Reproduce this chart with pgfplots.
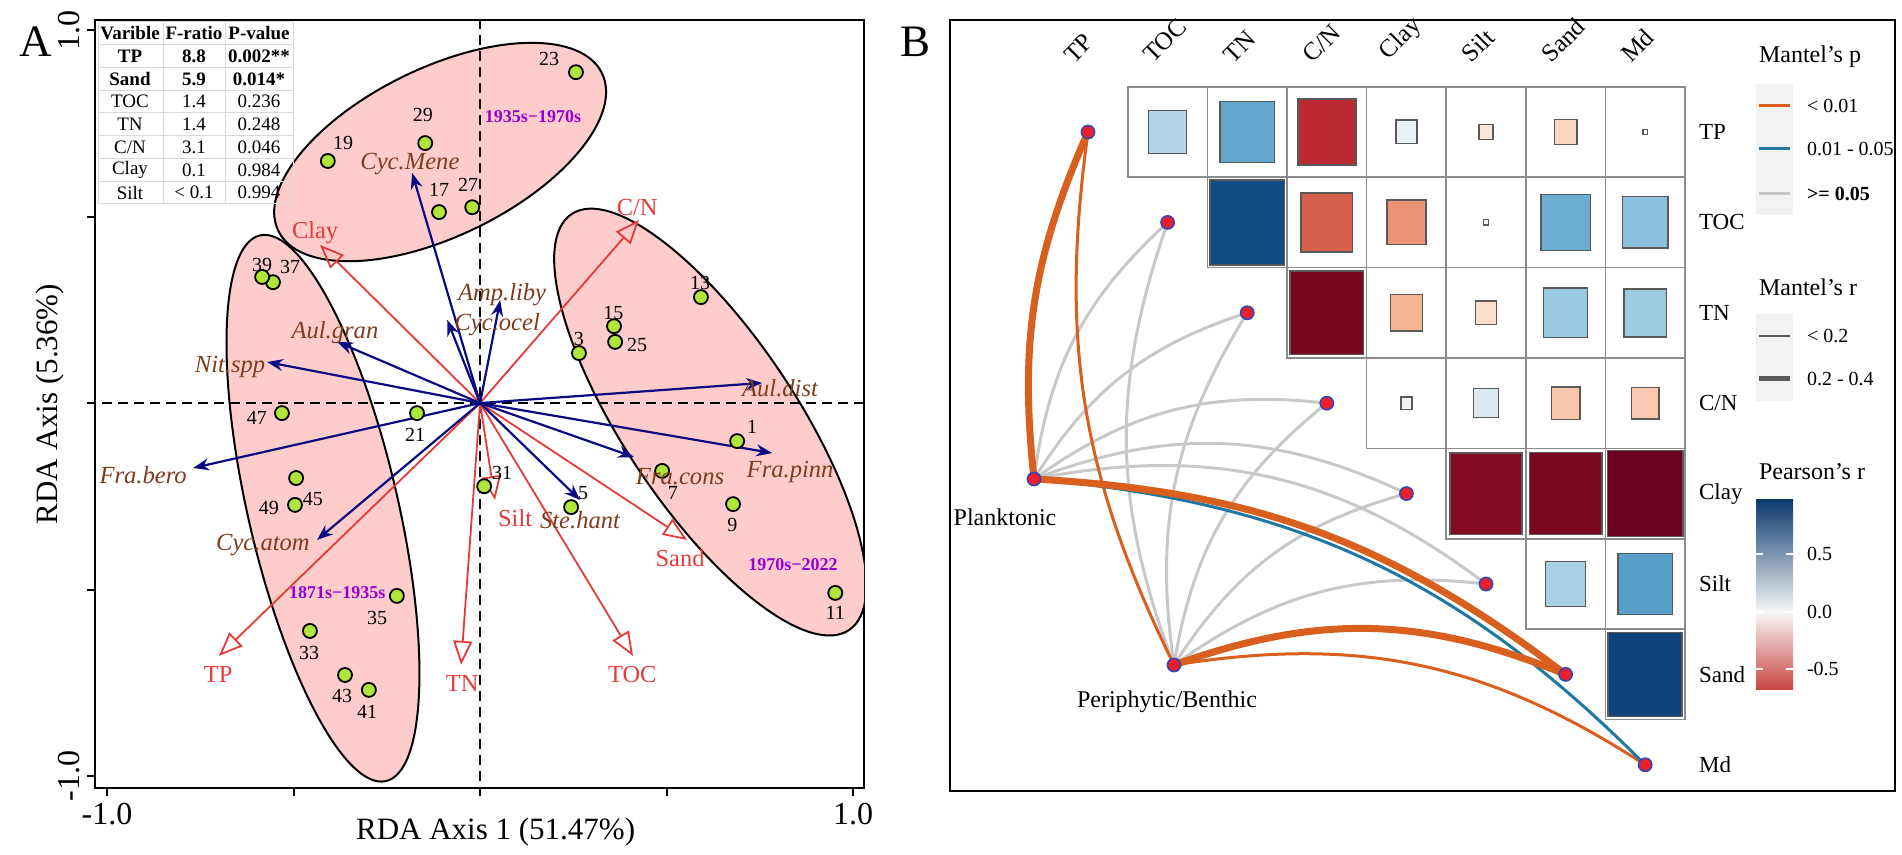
\documentclass[border=0pt]{standalone}
\usepackage{pgfplots}
\pgfplotsset{compat=1.18}
\usepackage{pgfplotstable}
\usepackage{fontspec}
\setmainfont{Liberation Serif}
\usetikzlibrary{arrows.meta}

\definecolor{ptgreen}{RGB}{176,229,58}
\definecolor{spnavy}{RGB}{10,10,130}
\definecolor{envred}{RGB}{228,58,58}
\definecolor{spbrown}{RGB}{125,60,30}
\definecolor{grpink}{RGB}{255,204,204}
\definecolor{perpurple}{RGB}{150,0,210}
\definecolor{mpor}{RGB}{217,95,30}
\definecolor{mpbl}{RGB}{31,120,164}
\definecolor{mpgr}{RGB}{200,200,200}
\definecolor{nodered}{RGB}{235,30,45}
\definecolor{nodeblue}{RGB}{50,70,180}

% ---- panel A: RDA site scores (x y) and label positions (lx ly)
\pgfplotstableread{
id x y lx ly
1 0.689 -0.102 0.729 -0.064
3 0.265 0.134 0.265 0.172
5 0.244 -0.279 0.276 -0.241
7 0.488 -0.182 0.517 -0.241
9 0.678 -0.271 0.676 -0.327
11 0.952 -0.509 0.952 -0.563
13 0.592 0.284 0.590 0.322
15 0.359 0.206 0.357 0.241
17 -0.110 0.512 -0.110 0.571
19 -0.408 0.649 -0.367 0.697
21 -0.169 -0.027 -0.174 -0.086
23 0.257 0.887 0.185 0.922
25 0.362 0.164 0.421 0.155
27 -0.021 0.525 -0.032 0.584
29 -0.147 0.697 -0.153 0.772
31 0.011 -0.223 0.059 -0.188
33 -0.456 -0.611 -0.458 -0.670
35 -0.223 -0.517 -0.276 -0.576
37 -0.555 0.324 -0.509 0.365
39 -0.584 0.338 -0.584 0.370
41 -0.298 -0.769 -0.303 -0.828
43 -0.362 -0.729 -0.370 -0.786
45 -0.493 -0.201 -0.448 -0.257
47 -0.531 -0.027 -0.598 -0.040
49 -0.496 -0.273 -0.566 -0.282
}\sites

% species loadings
\pgfplotstableread{
lab x y u v lx ly
Cyc.Mene 0 0 -0.182 0.617 -0.188 0.641
Amp.liby 0 0 0.054 0.276 0.059 0.290
Cyc.ocel 0 0 -0.088 0.223 0.046 0.209
Aul.gran 0 0 -0.383 0.164 -0.389 0.190
Nit.spp 0 0 -0.571 0.110 -0.670 0.097
Fra.bero 0 0 -0.769 -0.174 -0.903 -0.193
Cyc.atom 0 0 -0.437 -0.367 -0.582 -0.381
Aul.dist 0 0 0.756 0.054 0.804 0.040
Fra.pinn 0 0 0.783 -0.134 0.831 -0.185
Fra.cons 0 0 0.413 -0.145 0.536 -0.198
Ste.hant 0 0 0.268 -0.260 0.268 -0.314
}\species

% environmental loadings
\pgfplotstableread{
lab x y u v lx ly
Clay 0 0 -0.429 0.424 -0.442 0.456
C/N 0 0 0.426 0.491 0.421 0.523
TP 0 0 -0.700 -0.678 -0.702 -0.727
TN 0 0 -0.051 -0.702 -0.048 -0.751
TOC 0 0 0.410 -0.678 0.408 -0.729
Sand 0 0 0.555 -0.367 0.536 -0.416
Silt 0 0 0.040 -0.260 0.094 -0.308
}\env

\pgfplotstableread{
lab x y
1935s−1970s 0.142 0.767
1871s−1935s -0.383 -0.507
1970s−2022 0.839 -0.434
}\periods

% ---- panel B: Pearson's r among variables (row, col, r, square side fraction)
\pgfplotstableread{
row col r f
0 1 0.30 0.48
0 2 0.52 0.68
0 3 -0.75 0.73
0 4 0.08 0.26
0 5 -0.12 0.17
0 6 -0.22 0.28
0 7 0.02 0.06
1 2 0.90 0.94
1 3 -0.60 0.65
1 4 -0.45 0.49
1 5 0.01 0.06
1 6 0.50 0.62
1 7 0.42 0.57
2 3 -0.95 0.92
2 4 -0.35 0.40
2 5 -0.18 0.26
2 6 0.38 0.55
2 7 0.37 0.53
3 4 0.03 0.14
3 5 0.15 0.32
3 6 -0.28 0.36
3 7 -0.27 0.35
4 5 -0.92 0.90
4 6 -0.94 0.91
4 7 -0.99 0.95
5 6 0.33 0.50
5 7 0.55 0.68
6 7 0.93 0.93
}\cells

\pgfplotstableread{
k lab
0 TP
1 TOC
2 TN
3 C/N
4 Clay
5 Silt
6 Sand
7 Md
}\vars

\begin{document}
\begin{tikzpicture}
\useasboundingbox (0,0) rectangle (951pt,427.5pt);

% ================= Panel A =================
\begin{axis}[
  at={(47.5pt,33.5pt)}, anchor=south west,
  scale only axis, width=384.5pt, height=384pt,
  xmin=-1.032, xmax=1.029, ymin=-1.032, ymax=1.027,
  axis line style={line width=1pt},
  tick style={line width=1pt, black},
  major tick length=4pt,
  tick align=outside, tick pos=left,
  xtick={-1,-0.5,0,0.5,1}, xticklabels={-1.0,,,,1.0},
  ytick={-1,-0.5,0,0.5,1}, yticklabels={-1.0,,,,1.0},
  ticklabel style={font=\fontsize{16}{16}\selectfont},
  yticklabel style={rotate=90, anchor=south},
  xlabel={RDA Axis 1 (51.47\%)}, ylabel={RDA Axis (5.36\%)},
  label style={font=\fontsize{15.5}{16}\selectfont},
  xlabel style={at={(axis description cs:0.521,-0.057)}, anchor=center},
  ylabel style={at={(axis description cs:-0.0585,0.5)}, anchor=center},
]
  % group ellipses
  \draw[fill=grpink, draw=black, line width=1pt] (axis cs:-0.107,0.673) circle [x radius=90pt, y radius=42pt, rotate=26];
  \draw[fill=grpink, draw=black, line width=1pt] (axis cs:-0.421,-0.282) circle [x radius=140pt, y radius=37.5pt, rotate=-77];
  \draw[fill=grpink, draw=black, line width=1pt] (axis cs:0.617,-0.051) circle [x radius=125pt, y radius=43pt, rotate=-56.3];

  \addplot[black, line width=1pt, dash pattern=on 5pt off 3pt] coordinates {(0,-1.1) (0,1.1)};
  \addplot[black, line width=1pt, dash pattern=on 5pt off 3pt] coordinates {(-1.1,0) (1.1,0)};

  \addplot[envred, line width=0.9pt, -{Triangle[open, length=12pt, width=9.5pt, line width=0.9pt]},
    quiver={u=\thisrow{u}, v=\thisrow{v}}] table[x=x, y=y] \env;
  \addplot[spnavy, line width=1.1pt, -{Stealth[length=8pt, width=6pt]},
    quiver={u=\thisrow{u}, v=\thisrow{v}}] table[x=x, y=y] \species;

  \addplot[only marks, mark=*, mark size=3.5pt, mark options={fill=ptgreen, draw=black, line width=0.9pt}]
    table[x=x, y=y] \sites;

  \addplot[only marks, mark=none, nodes near coords, point meta=explicit symbolic,
    nodes near coords style={anchor=center, font=\fontsize{10}{10}\selectfont, text=black}]
    table[x=lx, y=ly, meta=id] \sites;
  \addplot[only marks, mark=none, nodes near coords, point meta=explicit symbolic,
    nodes near coords style={anchor=center, font=\itshape\fontsize{12.3}{13}\selectfont, text=spbrown}]
    table[x=lx, y=ly, meta=lab] \species;
  \addplot[only marks, mark=none, nodes near coords, point meta=explicit symbolic,
    nodes near coords style={anchor=center, font=\fontsize{12.2}{13}\selectfont, text=envred}]
    table[x=lx, y=ly, meta=lab] \env;
  \addplot[only marks, mark=none, nodes near coords, point meta=explicit symbolic,
    nodes near coords style={anchor=center, font=\bfseries\fontsize{9}{9}\selectfont, text=perpurple}]
    table[x=x, y=y, meta=lab] \periods;
\end{axis}

% ================= Panel B =================
\begin{axis}[
  at={(475pt,32pt)}, anchor=south west,
  scale only axis, width=472.5pt, height=385.5pt,
  xmin=950, xmax=1895, ymin=20, ymax=791, y dir=reverse,
  xtick=\empty, ytick=\empty,
  axis line style={line width=1pt},
  clip=false,
  colormap={rdbu}{rgb255=(103,0,31) rgb255=(178,24,43) rgb255=(214,96,77) rgb255=(244,165,130)
    rgb255=(253,219,199) rgb255=(247,247,247) rgb255=(209,229,240) rgb255=(146,197,222)
    rgb255=(67,147,195) rgb255=(33,102,172) rgb255=(5,48,97)},
  point meta min=-1, point meta max=1,
]
  % cell frames
  \addplot[only marks, mark=square*, mark size=22.6pt,
    mark options={xscale=0.8805, draw=black!45, fill=white, line width=0.75pt}]
    table[x expr=1088+79.6*\thisrow{col}, y expr=132+90.4*\thisrow{row}] \cells;
  % coloured squares, side proportional to f
  \addplot[scatter, only marks, mark=square*, point meta=\thisrow{r},
    scatter/use mapped color={draw=black!65, fill=mapped color},
    visualization depends on={22.6*\thisrow{f} \as \msz},
    scatter/@pre marker code/.append style={/tikz/mark size=\msz pt},
    mark options={xscale=0.8805, line width=0.75pt}]
    table[x expr=1088+79.6*\thisrow{col}, y expr=132+90.4*\thisrow{row}] \cells;

  % column and row names
  \addplot[only marks, mark=none, nodes near coords, point meta=explicit symbolic,
    nodes near coords style={rotate=45, anchor=south west, font=\fontsize{12.5}{12.5}\selectfont}]
    table[x expr=1074+79.6*\thisrow{k}, y expr=74, meta=lab] \vars;
  \addplot[only marks, mark=none, nodes near coords, point meta=explicit symbolic,
    nodes near coords style={anchor=west, font=\fontsize{11.5}{11.5}\selectfont}]
    table[x expr=1692, y expr=132+90.4*\thisrow{k}, meta=lab] \vars;

  % Mantel links
  \coordinate (pl) at (axis cs:1034,479);
  \coordinate (pb) at (axis cs:1174,665);
  \coordinate (v0) at (axis cs:1088,132);
  \coordinate (v1) at (axis cs:1167.6,222.4);
  \coordinate (v2) at (axis cs:1247.2,312.8);
  \coordinate (v3) at (axis cs:1326.8,403.2);
  \coordinate (v4) at (axis cs:1406.4,493.6);
  \coordinate (v5) at (axis cs:1486,584);
  \coordinate (v6) at (axis cs:1565.6,674.4);
  \coordinate (v7) at (axis cs:1645.2,764.8);

  \draw[mpgr, line width=1.5pt] (pl) to[bend left=20] (v1);
  \draw[mpgr, line width=1.5pt] (pl) to[bend left=20] (v2);
  \draw[mpgr, line width=1.5pt] (pl) to[bend left=21] (v3);
  \draw[mpgr, line width=1.5pt] (pl) to[bend left=23] (v4);
  \draw[mpgr, line width=1.5pt] (pl) to[bend left=24] (v5);
  \draw[mpgr, line width=1.5pt] (pb) to[bend left=20] (v1);
  \draw[mpgr, line width=1.5pt] (pb) to[bend left=20] (v2);
  \draw[mpgr, line width=1.5pt] (pb) to[bend left=21] (v3);
  \draw[mpgr, line width=1.5pt] (pb) to[bend left=21] (v4);
  \draw[mpgr, line width=1.5pt] (pb) to[bend left=21] (v5);

  \draw[mpor, line width=1.5pt] (pb) to[bend left=17] (v0);
  \draw[mpor, line width=1.5pt] (pb) to[bend left=21] (v7);
  \draw[mpbl, line width=1.5pt] (pl) to[bend left=20] (v7);
  \draw[mpor, line width=3.5pt] (pl) to[bend left=15] (v0);
  \draw[mpor, line width=3.5pt] (pl) to[bend left=17] (v6);
  \draw[mpor, line width=3.5pt] (pb) to[bend left=21] (v6);

  \addplot[only marks, mark=*, mark size=3.3pt, mark options={fill=nodered, draw=nodeblue, line width=0.8pt}]
    table[x expr=1088+79.6*\thisrow{k}, y expr=132+90.4*\thisrow{k}] \vars;
  \addplot[only marks, mark=*, mark size=3.3pt, mark options={fill=nodered, draw=nodeblue, line width=0.8pt}]
    coordinates {(1034,479) (1174,665)};

  \node[font=\fontsize{12}{12}\selectfont] at (axis cs:1005,517) {Planktonic};
  \node[font=\fontsize{12}{12}\selectfont] at (axis cs:1167,702) {Periphytic/Benthic};

  % legends
  \node[anchor=west, font=\fontsize{12}{12}\selectfont] at (axis cs:1752,57) {Mantel's p};
  \fill[black!5] (axis cs:1756,84) rectangle (axis cs:1793,215);
  \draw[mpor, line width=1.5pt] (axis cs:1759,106) -- (axis cs:1790,106);
  \draw[mpbl, line width=1.5pt] (axis cs:1759,149) -- (axis cs:1790,149);
  \draw[mpgr, line width=1.5pt] (axis cs:1759,194) -- (axis cs:1790,194);
  \node[anchor=west, font=\fontsize{10}{10}\selectfont] at (axis cs:1800,106) {< 0.01};
  \node[anchor=west, font=\fontsize{10}{10}\selectfont] at (axis cs:1800,149) {0.01 - 0.05};
  \node[anchor=west, font=\bfseries\fontsize{10}{10}\selectfont] at (axis cs:1800,194) {>= 0.05};

  \node[anchor=west, font=\fontsize{12}{12}\selectfont] at (axis cs:1752,287) {Mantel's r};
  \fill[black!5] (axis cs:1756,314) rectangle (axis cs:1793,401);
  \draw[black!65, line width=1pt] (axis cs:1759,336) -- (axis cs:1790,336);
  \draw[black!65, line width=2.5pt] (axis cs:1759,379) -- (axis cs:1790,379);
  \node[anchor=west, font=\fontsize{10}{10}\selectfont] at (axis cs:1800,336) {< 0.2};
  \node[anchor=west, font=\fontsize{10}{10}\selectfont] at (axis cs:1800,379) {0.2 - 0.4};

  \node[anchor=west, font=\fontsize{12}{12}\selectfont] at (axis cs:1752,472) {Pearson's r};
  \shade[top color={rgb,255:red,12;green,58;blue,110}, middle color={rgb,255:red,80;green,148;blue,198}, bottom color={rgb,255:red,247;green,247;blue,247}]
    (axis cs:1756,500) rectangle (axis cs:1793,612);
  \shade[top color={rgb,255:red,247;green,247;blue,247}, middle color={rgb,255:red,245;green,180;blue,152}, bottom color={rgb,255:red,200;green,67;blue,63}]
    (axis cs:1756,612) rectangle (axis cs:1793,690);
  \draw[white, line width=0.8pt] (axis cs:1756,554) -- (axis cs:1763,554) (axis cs:1786,554) -- (axis cs:1793,554);
  \draw[white, line width=0.8pt] (axis cs:1756,612) -- (axis cs:1763,612) (axis cs:1786,612) -- (axis cs:1793,612);
  \draw[white, line width=0.8pt] (axis cs:1756,669) -- (axis cs:1763,669) (axis cs:1786,669) -- (axis cs:1793,669);
  \node[anchor=west, font=\fontsize{10}{10}\selectfont] at (axis cs:1800,554) {0.5};
  \node[anchor=west, font=\fontsize{10}{10}\selectfont] at (axis cs:1800,612) {0.0};
  \node[anchor=west, font=\fontsize{10}{10}\selectfont] at (axis cs:1800,669) {-0.5};
\end{axis}

% ---- forward-selection table of panel A, panel letters (pixel layout)
\begin{scope}[yshift=427.5pt, x=0.5pt, y=-0.5pt]
\foreach \k in {0,...,8} \draw[black!15, line width=0.5pt] (98,{22+22.75*\k}) -- (293,{22+22.75*\k});
\foreach \xx in {98,163,225,293} \draw[black!15, line width=0.5pt] (\xx,22) -- (\xx,204);
\begin{scope}[font=\fontsize{9.5}{10}\selectfont]
  \node at (130,33.4) {\bfseries Varible}; \node at (194,33.4) {\bfseries F-ratio}; \node at (259,33.4) {\bfseries P-value};
  \node at (130,56.1) {\bfseries TP};   \node at (194,56.1) {\bfseries 8.8}; \node at (259,56.1) {\bfseries 0.002**};
  \node at (130,78.9) {\bfseries Sand}; \node at (194,78.9) {\bfseries 5.9}; \node at (259,78.9) {\bfseries 0.014*};
  \node at (130,101.6) {TOC};  \node at (194,101.6) {1.4};   \node at (259,101.6) {0.236};
  \node at (130,124.4) {TN};   \node at (194,124.4) {1.4};   \node at (259,124.4) {0.248};
  \node at (130,147.1) {C/N};  \node at (194,147.1) {3.1};   \node at (259,147.1) {0.046};
  \node at (130,169.9) {Clay}; \node at (194,169.9) {0.1};   \node at (259,169.9) {0.984};
  \node at (130,192.6) {Silt}; \node at (194,192.6) {< 0.1}; \node at (259,192.6) {0.994};
\end{scope}
\node[font=\fontsize{22.5}{23}\selectfont] at (36,42) {A};
\node[font=\fontsize{22.5}{23}\selectfont] at (915,42) {B};
\end{scope}
\end{tikzpicture}
\end{document}
